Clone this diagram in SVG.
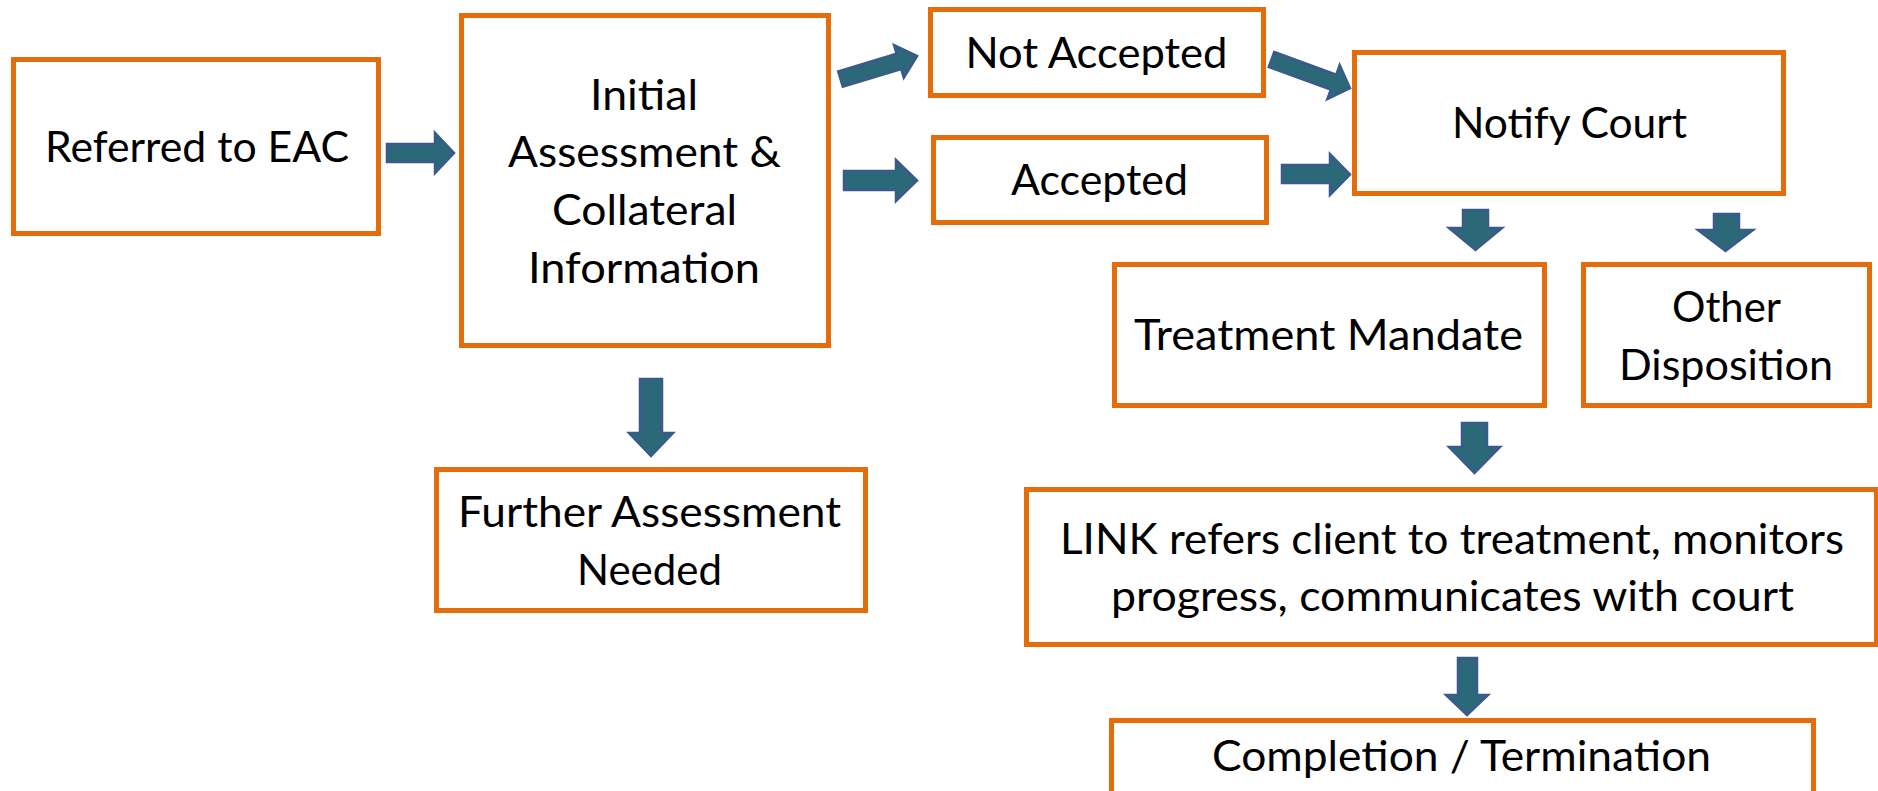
<svg xmlns="http://www.w3.org/2000/svg" width="1878" height="791" viewBox="0 0 1878 791">
  <style>
    .box { fill: #ffffff; stroke: #e46c0a; stroke-width: 5; }
    .lbl { font-family: Lato, "Liberation Sans", sans-serif; font-size: 42px; fill: #000000; text-anchor: middle; }
    .arrow { fill: #2b6878; stroke: #3a5a8c; stroke-width: 2.5; stroke-linejoin: miter; }
  </style>
  <rect width="1878" height="791" fill="#ffffff"/>

  <!-- block arrows between steps -->
  <g id="connectors">
    <polygon class="arrow" points="387,144 435,144 435,133 454,153 435,173 435,162 387,162"/>
    <polygon class="arrow" transform="translate(840.5,79) rotate(-16.7)" points="0,-8 61,-8 61,-17 80,0 61,17 61,8 0,8"/>
    <polygon class="arrow" points="844,171 896,171 896,160 917,180.5 896,201 896,190 844,190"/>
    <polygon class="arrow" transform="translate(1271.5,59.5) rotate(20)" points="0,-8 66,-8 66,-18 83.5,0 66,18 66,8 0,8"/>
    <polygon class="arrow" points="1282,165 1330,165 1330,154 1350,174.5 1330,195 1330,183 1282,183"/>
    <polygon class="arrow" points="1463,210 1488,210 1488,228 1502,228 1475.5,250 1449,228 1463,228"/>
    <polygon class="arrow" points="1714,214 1739,214 1739,230 1753,230 1725.5,251 1698,230 1714,230"/>
    <polygon class="arrow" points="640,379 662,379 662,433 673,433 651,456 629,433 640,433"/>
    <polygon class="arrow" points="1462,423 1487,423 1487,447 1500,447 1474.5,473 1449,447 1462,447"/>
    <polygon class="arrow" points="1458,658 1477,658 1477,695 1488,695 1467,715 1446,695 1458,695"/>
  </g>

  <g id="referred">
    <rect class="box" x="13.5" y="59.5" width="365" height="174"/>
    <text class="lbl" x="197" y="162" textLength="304" lengthAdjust="spacingAndGlyphs">Referred to EAC</text>
  </g>

  <g id="initial">
    <rect class="box" x="461.5" y="15.5" width="367" height="330"/>
    <text class="lbl" x="644" y="110" textLength="108" lengthAdjust="spacingAndGlyphs">Initial</text>
    <text class="lbl" x="644.5" y="167" textLength="273" lengthAdjust="spacingAndGlyphs">Assessment &amp;</text>
    <text class="lbl" x="644.5" y="225" textLength="185" lengthAdjust="spacingAndGlyphs">Collateral</text>
    <text class="lbl" x="644" y="283" textLength="232" lengthAdjust="spacingAndGlyphs">Information</text>
  </g>

  <g id="not-accepted">
    <rect class="box" x="930.5" y="9.5" width="333" height="86"/>
    <text class="lbl" x="1096.5" y="68" textLength="262" lengthAdjust="spacingAndGlyphs">Not Accepted</text>
  </g>

  <g id="accepted">
    <rect class="box" x="933.5" y="137.5" width="333" height="85"/>
    <text class="lbl" x="1099.5" y="195" textLength="177" lengthAdjust="spacingAndGlyphs">Accepted</text>
  </g>

  <g id="notify-court">
    <rect class="box" x="1354.5" y="52.5" width="429" height="141"/>
    <text class="lbl" x="1569.5" y="138" textLength="235" lengthAdjust="spacingAndGlyphs">Notify Court</text>
  </g>

  <g id="treatment-mandate">
    <rect class="box" x="1114.5" y="264.5" width="430" height="141"/>
    <text class="lbl" x="1328.5" y="350" textLength="389" lengthAdjust="spacingAndGlyphs">Treatment Mandate</text>
  </g>

  <g id="other-disposition">
    <rect class="box" x="1583.5" y="264.5" width="286" height="141"/>
    <text class="lbl" x="1726.5" y="322" textLength="109" lengthAdjust="spacingAndGlyphs">Other</text>
    <text class="lbl" x="1726" y="380" textLength="214" lengthAdjust="spacingAndGlyphs">Disposition</text>
  </g>

  <g id="further-assessment">
    <rect class="box" x="436.5" y="469.5" width="429" height="141"/>
    <text class="lbl" x="649.5" y="527" textLength="383" lengthAdjust="spacingAndGlyphs">Further Assessment</text>
    <text class="lbl" x="649.5" y="585" textLength="145" lengthAdjust="spacingAndGlyphs">Needed</text>
  </g>

  <g id="link-referral">
    <rect class="box" x="1026.5" y="489.5" width="850" height="155"/>
    <text class="lbl" x="1452" y="554" textLength="784" lengthAdjust="spacingAndGlyphs">LINK refers client to treatment, monitors</text>
    <text class="lbl" x="1452.5" y="611" textLength="683" lengthAdjust="spacingAndGlyphs">progress, communicates with court</text>
  </g>

  <g id="completion">
    <rect class="box" x="1111.5" y="720.5" width="702" height="100"/>
    <text class="lbl" x="1461.5" y="771" textLength="499" lengthAdjust="spacingAndGlyphs">Completion / Termination</text>
  </g>
</svg>
